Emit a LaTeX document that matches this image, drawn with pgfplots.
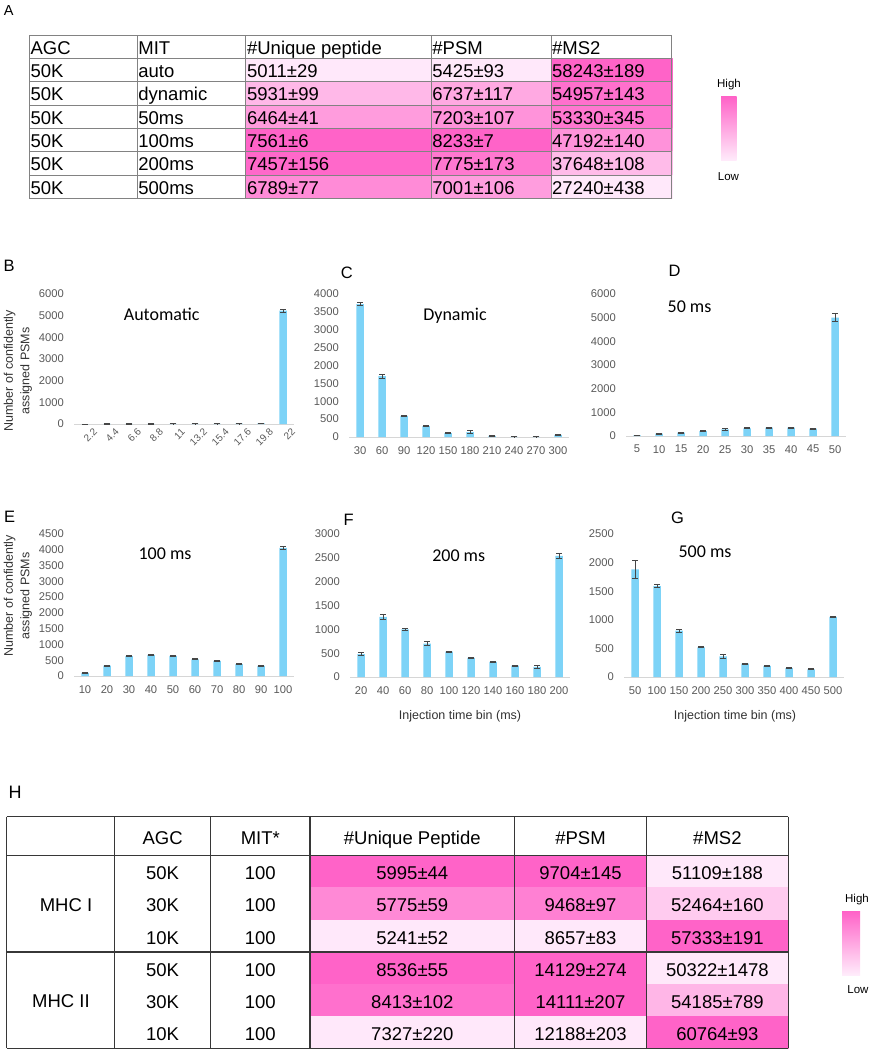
\documentclass[border=0pt]{standalone}
\usepackage{pgfplots}
\pgfplotsset{compat=1.18}
\usepackage{pgfplotstable}
\usepgfplotslibrary{patchplots}
\usepackage{fontspec}
\setmainfont{Liberation Sans}
\newfontfamily\calibri{Carlito}

\definecolor{barblue}{RGB}{125,211,247}
\definecolor{ticklab}{RGB}{89,89,89}
\definecolor{errc}{RGB}{70,70,70}
\definecolor{heatlo}{RGB}{255,236,251}
\definecolor{heathi}{RGB}{255,99,200}
\definecolor{gridA}{RGB}{130,130,130}
\definecolor{gridH}{RGB}{55,55,55}
\definecolor{labc}{RGB}{50,50,50}

\newcommand\fT{\fontsize{18.5}{20}\selectfont}
\newcommand\fL{\fontsize{16.5}{18}\selectfont}
\newcommand\fTitle{\calibri\fontsize{18}{20}\selectfont}
\newcommand\fY{\fontsize{12.5}{16.5}\selectfont}
\newcommand\fLeg{\fontsize{11.5}{13}\selectfont}

% ---- bar chart data: x = bin index, y = PSMs, e = error ----
\pgfplotstableread{
x y e
1 0 0
2 3 2
3 4 2
4 4 2
5 5 2
6 5 2
7 6 3
8 20 5
9 25 6
10 5230 70
}\dataB
\pgfplotstableread{
x y e
1 3720 50
2 1700 50
3 590 15
4 305 15
5 110 15
6 140 30
7 35 10
8 5 3
9 5 3
10 60 15
}\dataC
\pgfplotstableread{
x y e
1 28 8
2 99 15
3 141 15
4 211 20
5 283 30
6 325 20
7 350 20
8 350 20
9 310 20
10 5000 170
}\dataD
\pgfplotstableread{
x y e
1 100 10
2 330 15
3 630 20
4 670 20
5 640 20
6 530 15
7 480 15
8 380 15
9 320 15
10 4060 50
}\dataE
\pgfplotstableread{
x y e
1 480 30
2 1260 50
3 1000 15
4 700 40
5 530 15
6 400 15
7 315 10
8 240 10
9 210 30
10 2540 60
}\dataF
\pgfplotstableread{
x y e
1 1880 150
2 1590 25
3 810 30
4 520 10
5 360 40
6 235 10
7 195 10
8 155 10
9 135 10
10 1050 10
}\dataG

\pgfplotsset{
  bchart/.style={
    scale only axis, anchor=south west, width=220pt,
    ybar, bar width=7.5pt,
    xmin=0.5, xmax=10.5, ymin=0,
    axis x line*=bottom, axis y line*=left,
    y axis line style={draw=none},
    x axis line style={draw=black!16, line width=1pt},
    major tick length=0pt,
    xtick={1,...,10},
    tick label style={font=\fontsize{11.2}{13}\selectfont, text=ticklab},
    /pgf/number format/assume math mode=true,
    /pgf/number format/1000 sep={},
    yticklabel style={anchor=east, inner sep=0pt, xshift=-10pt},
    clip=false,
  },
  xlab/.style={xticklabel style={anchor=north, inner sep=0pt, yshift=-9pt}},
  bplot/.style={fill=barblue, draw=none,
    error bars/.cd, y dir=both, y explicit,
    error bar style={draw=errc, line width=0.9pt},
    error mark options={draw=errc, rotate=90, mark size=3pt, line width=0.9pt}},
}

\begin{document}
\begin{tikzpicture}
\useasboundingbox (0pt,0pt) rectangle (873pt,-1050pt);

% ---------- heat-map cells of tables A and H (meta = scaled value within column/group) ----------
\begin{axis}[at={(0pt,0pt)}, anchor=north west, scale only axis,
  width=873pt, height=1050pt, xmin=0, xmax=873, ymin=0, ymax=1050,
  y dir=reverse, hide axis, clip=false,
  colormap={pinkheat}{rgb255=(255,232,250) rgb255=(255,99,200)},
  point meta min=0, point meta max=1]
\addplot[patch, patch type=rectangle, shader=flat, point meta=explicit] coordinates {
(245.9,58.33) [0] (431.2,58.33) [0] (431.2,82.2) [0] (245.9,82.2) [0]
(431.2,58.33) [0] (551,58.33) [0] (551,82.2) [0] (431.2,82.2) [0]
(551,58.33) [1] (671.7,58.33) [1] (671.7,82.2) [1] (551,82.2) [1]
(245.9,81.67) [0.361] (431.2,81.67) [0.361] (431.2,105.5) [0.361] (245.9,105.5) [0.361]
(431.2,81.67) [0.467] (551,81.67) [0.467] (551,105.5) [0.467] (431.2,105.5) [0.467]
(551,81.67) [0.894] (671.7,81.67) [0.894] (671.7,105.5) [0.894] (551,105.5) [0.894]
(245.9,105) [0.570] (431.2,105) [0.570] (431.2,128.8) [0.570] (245.9,128.8) [0.570]
(431.2,105) [0.633] (551,105) [0.633] (551,128.8) [0.633] (431.2,128.8) [0.633]
(551,105) [0.842] (671.7,105) [0.842] (671.7,128.8) [0.842] (551,128.8) [0.842]
(245.9,128.33) [1] (431.2,128.33) [1] (431.2,152.2) [1] (245.9,152.2) [1]
(431.2,128.33) [1] (551,128.33) [1] (551,152.2) [1] (431.2,152.2) [1]
(551,128.33) [0.644] (671.7,128.33) [0.644] (671.7,152.2) [0.644] (551,152.2) [0.644]
(245.9,151.67) [0.959] (431.2,151.67) [0.959] (431.2,175.5) [0.959] (245.9,175.5) [0.959]
(431.2,151.67) [0.837] (551,151.67) [0.837] (551,175.5) [0.837] (431.2,175.5) [0.837]
(551,151.67) [0.336] (671.7,151.67) [0.336] (671.7,175.5) [0.336] (551,175.5) [0.336]
(245.9,175) [0.697] (431.2,175) [0.697] (431.2,198.33) [0.697] (245.9,198.33) [0.697]
(431.2,175) [0.561] (551,175) [0.561] (551,198.33) [0.561] (431.2,198.33) [0.561]
(551,175) [0] (671.7,175) [0] (671.7,198.33) [0] (551,198.33) [0]
(310,855.3) [1] (514.5,855.3) [1] (514.5,888) [1] (310,888) [1]
(514.5,855.3) [1] (646.4,855.3) [1] (646.4,888) [1] (514.5,888) [1]
(646.4,855.3) [0] (788.4,855.3) [0] (788.4,888) [0] (646.4,888) [0]
(310,887.5) [0.708] (514.5,887.5) [0.708] (514.5,920.2) [0.708] (310,920.2) [0.708]
(514.5,887.5) [0.775] (646.4,887.5) [0.775] (646.4,920.2) [0.775] (514.5,920.2) [0.775]
(646.4,887.5) [0.218] (788.4,887.5) [0.218] (788.4,920.2) [0.218] (646.4,920.2) [0.218]
(310,919.7) [0] (514.5,919.7) [0] (514.5,952) [0] (310,952) [0]
(514.5,919.7) [0] (646.4,919.7) [0] (646.4,952) [0] (514.5,952) [0]
(646.4,919.7) [1] (788.4,919.7) [1] (788.4,952) [1] (646.4,952) [1]
(310,952) [1] (514.5,952) [1] (514.5,984.7) [1] (310,984.7) [1]
(514.5,952) [1] (646.4,952) [1] (646.4,984.7) [1] (514.5,984.7) [1]
(646.4,952) [0] (788.4,952) [0] (788.4,984.7) [0] (646.4,984.7) [0]
(310,984.2) [0.898] (514.5,984.2) [0.898] (514.5,1016.9) [0.898] (310,1016.9) [0.898]
(514.5,984.2) [0.991] (646.4,984.2) [0.991] (646.4,1016.9) [0.991] (514.5,1016.9) [0.991]
(646.4,984.2) [0.370] (788.4,984.2) [0.370] (788.4,1016.9) [0.370] (646.4,1016.9) [0.370]
(310,1016.4) [0] (514.5,1016.4) [0] (514.5,1048.4) [0] (310,1048.4) [0]
(514.5,1016.4) [0] (646.4,1016.4) [0] (646.4,1048.4) [0] (514.5,1048.4) [0]
(646.4,1016.4) [1] (788.4,1016.4) [1] (788.4,1048.4) [1] (646.4,1048.4) [1]
};
\end{axis}

\begin{scope}[x=1pt,y=-1pt]
% ---------- Table A ----------
\node[anchor=base west, inner sep=0pt, font=\fontsize{14.5}{16}\selectfont] at (3.6,15) {A};
\foreach \k in {0,...,7} \draw[gridA, line width=1pt] (29.4,{35+23.333*\k}) -- (671.7,{35+23.333*\k});
\foreach \xx in {29.4,137.2,245.9,431.2,551,671.7} \draw[gridA, line width=1pt] (\xx,35) -- (\xx,198.33);
\node[anchor=base west, inner sep=0pt, font=\fT] at (30.4,54.3) {AGC};
\node[anchor=base west, inner sep=0pt, font=\fT] at (138.2,54.3) {MIT};
\node[anchor=base west, inner sep=0pt, font=\fT] at (246.9,54.3) {\#Unique peptide};
\node[anchor=base west, inner sep=0pt, font=\fT] at (432.2,54.3) {\#PSM};
\node[anchor=base west, inner sep=0pt, font=\fT] at (552,54.3) {\#MS2};
\foreach \r/\va/\vb/\vc/\vd/\ve in {1/50K/auto/5011±29/5425±93/58243±189,
  2/50K/dynamic/5931±99/6737±117/54957±143,
  3/50K/50ms/6464±41/7203±107/53330±345,
  4/50K/100ms/7561±6/8233±7/47192±140,
  5/50K/200ms/7457±156/7775±173/37648±108,
  6/50K/500ms/6789±77/7001±106/27240±438}{
  \pgfmathsetmacro\yy{35+23.333*(\r+0.5)+7.6}
  \node[anchor=base west, inner sep=0pt, font=\fT] at (30.4,\yy) {\va};
  \node[anchor=base west, inner sep=0pt, font=\fT] at (138.2,\yy) {\vb};
  \node[anchor=base west, inner sep=0pt, font=\fT] at (246.9,\yy) {\vc};
  \node[anchor=base west, inner sep=0pt, font=\fT] at (432.2,\yy) {\vd};
  \node[anchor=base west, inner sep=0pt, font=\fT] at (552,\yy) {\ve};
}
% legend A
\node[font=\fLeg, anchor=base, inner sep=0pt] at (729,87.3) {High};
\shade[top color=heathi, bottom color=heatlo] (721,96.7) rectangle (736.7,160.7);
\node[font=\fLeg, anchor=base, inner sep=0pt] at (728.5,180) {Low};

% ---------- panel letters, titles, axis labels ----------
\node[anchor=base west, inner sep=0pt, font=\fL] at (3.3,271.7) {B};
\node[anchor=base west, inner sep=0pt, font=\fL] at (340.7,278.3) {C};
\node[anchor=base west, inner sep=0pt, font=\fL] at (668.3,276.7) {D};
\node[anchor=base west, inner sep=0pt, font=\fL] at (4,522.7) {E};
\node[anchor=base west, inner sep=0pt, font=\fL] at (343.3,525) {F};
\node[anchor=base west, inner sep=0pt, font=\fL] at (671,523.3) {G};
\node[anchor=base west, inner sep=0pt, font=\fontsize{18}{20}\selectfont] at (8.4,798.3) {H};

\node[anchor=base, inner sep=0pt, font=\fTitle] at (161.7,320) {Automatic};
\node[anchor=base, inner sep=0pt, font=\fTitle] at (455,320) {Dynamic};
\node[anchor=base, inner sep=0pt, font=\fTitle] at (689.5,312.3) {50 ms};
\node[anchor=base, inner sep=0pt, font=\fTitle] at (165,559) {100 ms};
\node[anchor=base, inner sep=0pt, font=\fTitle] at (458.7,561) {200 ms};
\node[anchor=base, inner sep=0pt, font=\fTitle] at (705,557.7) {500 ms};

\node[rotate=90, align=center, inner sep=0pt, font=\fY, text=labc] at (18,371) {Number of confidently\\assigned PSMs};
\node[rotate=90, align=center, inner sep=0pt, font=\fY, text=labc] at (18,596) {Number of confidently\\assigned PSMs};
\node[inner sep=0pt, font=\fY, text=labc] at (460,716) {Injection time bin (ms)};
\node[inner sep=0pt, font=\fY, text=labc] at (735,716) {Injection time bin (ms)};

% ---------- Table H ----------
\foreach \yy in {816.7,855.3,952,1048.3} \draw[gridH, line width=1.4pt] (6.7,\yy) -- (788.4,\yy);
\foreach \xx in {6.7,114.7,210.5,310,514.5,646.4,788.4} \draw[gridH, line width=1.4pt] (\xx,816.7) -- (\xx,1048.3);
\node[anchor=base, inner sep=0pt, font=\fT] at (162.6,844.1) {AGC};
\node[anchor=base, inner sep=0pt, font=\fT] at (260.3,844.1) {MIT*};
\node[anchor=base, inner sep=0pt, font=\fT] at (412.3,844.1) {\#Unique Peptide};
\node[anchor=base, inner sep=0pt, font=\fT] at (580.5,844.1) {\#PSM};
\node[anchor=base, inner sep=0pt, font=\fT] at (717.4,844.1) {\#MS2};
\node[anchor=base, inner sep=0pt, font=\fT] at (66,911.7) {MHC I};
\node[anchor=base, inner sep=0pt, font=\fT] at (61,1007) {MHC II};
\foreach \yy/\va/\vc/\vd/\ve in {879.5/50K/5995±44/9704±145/51109±188,
  911.7/30K/5775±59/9468±97/52464±160,
  944/10K/5241±52/8657±83/57333±191,
  976.2/50K/8536±55/14129±274/50322±1478,
  1008.4/30K/8413±102/14111±207/54185±789,
  1040.6/10K/7327±220/12188±203/60764±93}{
  \node[anchor=base, inner sep=0pt, font=\fT] at (162.6,\yy) {\va};
  \node[anchor=base, inner sep=0pt, font=\fT] at (260.3,\yy) {100};
  \node[anchor=base, inner sep=0pt, font=\fT] at (412.3,\yy) {\vc};
  \node[anchor=base, inner sep=0pt, font=\fT] at (580.5,\yy) {\vd};
  \node[anchor=base, inner sep=0pt, font=\fT] at (717.4,\yy) {\ve};
}
% legend H
\node[font=\fLeg, anchor=base, inner sep=0pt] at (857,902) {High};
\shade[top color=heathi, bottom color=heatlo] (842,911.7) rectangle (860,975);
\node[font=\fLeg, anchor=base, inner sep=0pt] at (858,993) {Low};
\end{scope}

% ---------- bar charts ----------
\begin{axis}[bchart, at={(74pt,-424pt)}, height=130pt, ymax=6000, ytick={0,1000,...,6000},
  xticklabels={2.2,4.4,6.6,8.8,11,13.2,15.4,17.6,19.8,22},
  xticklabel style={rotate=45, anchor=north east, inner sep=0pt, xshift=3pt, yshift=-8pt,
    font=\fontsize{10}{11}\selectfont}]
\addplot[bplot] table[x=x, y=y, y error=e] {\dataB};
\end{axis}

\begin{axis}[bchart, xlab, at={(349pt,-437pt)}, height=143pt, ymax=4000, ytick={0,500,...,4000},
  xticklabels={30,60,90,120,150,180,210,240,270,300}]
\addplot[bplot] table[x=x, y=y, y error=e] {\dataC};
\end{axis}

\begin{axis}[bchart, xlab, at={(626pt,-436pt)}, height=142pt, ymax=6000, ytick={0,1000,...,6000},
  xticklabels={5,10,15,20,25,30,35,40,45,50}]
\addplot[bplot] table[x=x, y=y, y error=e] {\dataD};
\end{axis}

\begin{axis}[bchart, xlab, at={(74pt,-676pt)}, height=142pt, ymax=4500, ytick={0,500,...,4500},
  xticklabels={10,20,30,40,50,60,70,80,90,100}]
\addplot[bplot] table[x=x, y=y, y error=e] {\dataE};
\end{axis}

\begin{axis}[bchart, xlab, at={(350pt,-677pt)}, height=143pt, ymax=3000, ytick={0,500,...,3000},
  xticklabels={20,40,60,80,100,120,140,160,180,200}]
\addplot[bplot] table[x=x, y=y, y error=e] {\dataF};
\end{axis}

\begin{axis}[bchart, xlab, at={(624pt,-677pt)}, height=143pt, ymax=2500, ytick={0,500,...,2500},
  xticklabels={50,100,150,200,250,300,350,400,450,500}]
\addplot[bplot] table[x=x, y=y, y error=e] {\dataG};
\end{axis}
\end{tikzpicture}
\end{document}
